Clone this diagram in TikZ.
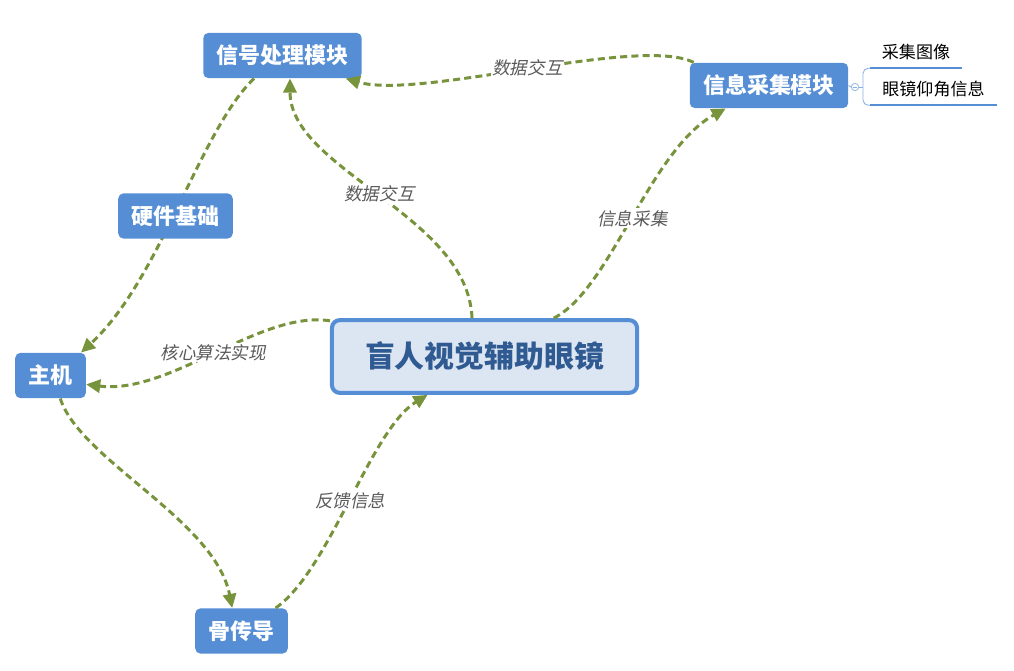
\documentclass[tikz,border=0pt]{standalone}
\usepackage{fontspec}
\setmainfont{Noto Sans CJK SC}
\newfontfamily\slantcjk{Noto Sans CJK SC}[FakeSlant=0.2]
\usepackage{xcolor}
\usepackage{tikz}
\usetikzlibrary{calc,arrows.meta}

\definecolor{topicblue}{HTML}{558ED5}
\definecolor{mainfill}{HTML}{DCE6F2}
\definecolor{maintext}{HTML}{2F5A92}
\definecolor{relgreen}{HTML}{77933C}
\definecolor{labelgray}{HTML}{595959}

\begin{document}
\begin{tikzpicture}[x=0.02cm, y=-0.02cm,
	topic/.style={fill=topicblue, text=white, rounded corners=3pt,
		font=\bfseries\fontsize{12.5}{14}\selectfont,
		minimum height=25.8pt, inner xsep=7.6pt, inner ysep=0pt},
	central/.style={fill=mainfill, draw=topicblue, line width=2.3pt, rounded corners=4.5pt,
		text=maintext, font=\bfseries\fontsize{17}{20}\selectfont,
		minimum width=173.7pt, minimum height=41.4pt},
	subtopic/.style={font=\fontsize{9.7}{11}\selectfont, minimum height=18.1pt, inner sep=0pt},
	subline/.style={topicblue, line width=1.2pt},
	branch/.style={topicblue!70, line width=0.5pt},
	fold/.style={circle, draw=topicblue!60, fill=white, line width=0.5pt, minimum size=4.2pt, inner sep=0pt},
	rel/.style={relgreen, line width=1.7pt, dash pattern=on 4pt off 2.4pt,
		-{Triangle[length=8pt,width=7.5pt]}},
	rellabel/.style={font=\slantcjk\fontsize{10}{12}\selectfont, text=labelgray, fill=white, inner sep=1pt}]
	
	% --- 1. 画布范围 ---
	\useasboundingbox (0,0) rectangle (1014,671);
	
	% --- 2. 中心主题与各分支主题 ---
	\node[central] (main) at (484.5,356.5) {盲人视觉辅助眼镜};
	\node[topic] (sig) at (282.5,55.5) {信号处理模块};
	\node[topic] (collect) at (769,85.5) {信息采集模块};
	\node[topic] (host) at (50.5,375.5) {主机};
	\node[topic] (bone) at (241.5,631) {骨传导};
	
	% --- 3. 信息采集模块的子主题 ---
	\node[fold] (fold) at (855,87) {};
	\draw[branch, line width=0.4pt] ([xshift=-1.2pt]fold.center) -- ([xshift=1.2pt]fold.center);
	\coordinate (bx) at (863,87);
	\node[subtopic, minimum width=52pt] (sub1) at (916,52) {采集图像};
	\node[subtopic, minimum width=72pt] (sub2) at (933.5,89) {眼镜仰角信息};
	\draw[branch] (collect.east) -- (fold.west);
	\draw[branch] (fold.east) -- (bx);
	\draw[branch, rounded corners=3pt] (sub1.south west) -| (bx) |- (sub2.south west);
	\draw[subline] (sub1.south west) -- (sub1.south east);
	\draw[subline] (sub2.south west) -- (sub2.south east);
	
	% --- 4. 联系线 (绿色虚线) ---
	\draw[rel] (main.108) .. controls (468,215) and (290,170) .. node[rellabel] {数据交互} (sig.288);
	\draw[rel] (collect.163) .. controls (640,35) and (420,100) .. node[rellabel] {数据交互} (sig.340);
	\draw[rel] (main.29) .. controls (610,290) and (650,150) .. node[rellabel] {信息采集} (collect.208);
	\draw[rel] (main.167) .. controls (260,310) and (170,395) .. node[rellabel] {核心算法实现} (host.346);
	\draw[rel] (sig.219) .. controls (200,130) and (160,280) .. (host.37);
	\draw[rel] (host.293) .. controls (80,460) and (215,520) .. (bone.112);
	\draw[rel] (bone.34) .. controls (330,570) and (370,430) .. node[rellabel] {反馈信息} (main.214);
	
	% 硬件基础 盖在连线之上
	\node[topic] (hw) at (175.5,216) {硬件基础};
	
\end{tikzpicture}
\end{document}
